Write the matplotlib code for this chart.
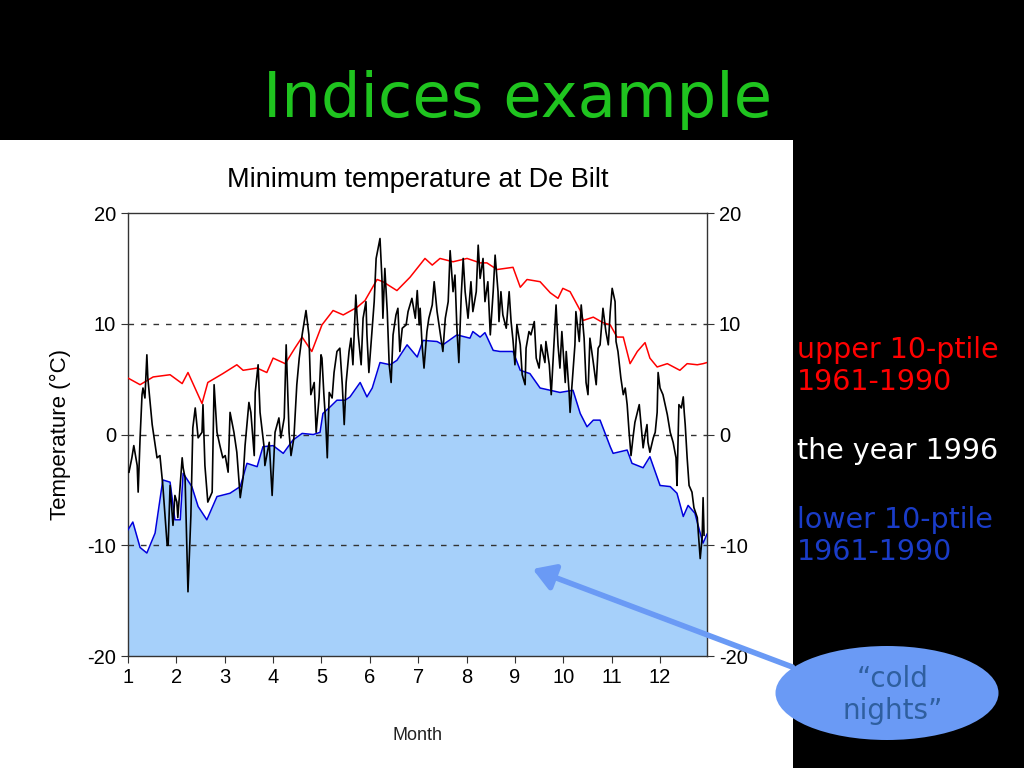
import matplotlib
matplotlib.use("Agg")
import matplotlib.pyplot as plt
from matplotlib.patches import Rectangle, Ellipse, FancyArrowPatch

# upper 10-percentile 1961-1990 (month, degC)
red_x = [1.00, 1.25, 1.52, 1.87, 2.12, 2.24, 2.53, 2.65, 2.96, 3.25, 3.38, 3.67, 3.87,
         4.00, 4.25, 4.45, 4.60, 4.80, 5.01, 5.24, 5.45, 5.74, 5.90, 6.15, 6.27, 6.56,
         6.83, 7.14, 7.29, 7.45, 7.72, 8.01, 8.28, 8.42, 8.63, 8.96, 9.11, 9.25, 9.52,
         9.73, 9.89, 9.99, 10.14, 10.35, 10.41, 10.62, 10.82, 10.97, 11.11, 11.24, 11.38,
         11.53, 11.69, 11.79, 11.94, 12.15, 12.41, 12.56, 12.77, 12.89, 12.97]
red_y = [5.1, 4.5, 5.2, 5.4, 4.6, 5.6, 2.8, 4.7, 5.5, 6.3, 5.8, 6.0, 5.6,
         6.9, 6.4, 7.8, 8.8, 7.5, 9.9, 11.2, 10.8, 11.5, 12.1, 14.0, 13.8, 13.0,
         14.2, 15.9, 15.3, 15.9, 15.6, 15.9, 15.5, 15.5, 14.9, 15.1, 13.3, 14.0, 13.8,
         12.8, 12.3, 13.2, 12.9, 11.2, 10.3, 10.6, 10.1, 9.9, 8.8, 8.8, 6.4,
         7.5, 8.3, 6.9, 6.1, 6.4, 5.8, 6.4, 6.3, 6.4, 6.5]

# lower 10-percentile 1961-1990
blue_x = [1.00, 1.10, 1.25, 1.39, 1.56, 1.72, 1.87, 1.97, 2.08, 2.14, 2.32, 2.45, 2.63,
          2.84, 3.11, 3.32, 3.46, 3.67, 3.79, 4.00, 4.21, 4.41, 4.60, 4.83, 4.97, 5.03,
          5.18, 5.32, 5.49, 5.59, 5.80, 5.94, 6.05, 6.21, 6.42, 6.56, 6.77, 6.98, 7.10,
          7.39, 7.51, 7.80, 8.07, 8.13, 8.28, 8.38, 8.55, 8.69, 8.96, 9.11, 9.31, 9.52,
          9.93, 10.20, 10.35, 10.49, 10.62, 10.76, 10.97, 11.03, 11.32, 11.42, 11.65,
          11.79, 12.00, 12.21, 12.35, 12.48, 12.58, 12.72, 12.83, 12.89, 12.97]
blue_y = [-8.6, -7.9, -10.2, -10.7, -8.9, -4.1, -4.3, -7.7, -7.7, -3.5, -4.7, -6.5, -7.7,
          -5.6, -5.3, -4.7, -2.6, -2.9, -1.1, -1.0, -1.7, -0.5, 0.1, 0.0, 0.2, 1.9,
          2.5, 3.1, 3.1, 3.4, 4.7, 3.4, 4.2, 6.5, 6.3, 6.7, 8.1, 7.0, 8.5,
          8.4, 8.1, 9.0, 8.7, 9.3, 8.8, 9.2, 7.6, 7.5, 7.5, 5.8, 5.5, 4.2,
          3.8, 4.0, 1.9, 0.7, 1.3, 1.3, -1.1, -1.7, -1.4, -2.6, -3.0,
          -2.0, -4.6, -4.7, -5.3, -7.4, -6.4, -7.1, -8.9, -9.8, -9.0]

# the year 1996
year_x = [1.02, 1.08, 1.12, 1.19, 1.21, 1.25, 1.29, 1.31, 1.35, 1.39, 1.41, 1.50, 1.60,
          1.66, 1.72, 1.81, 1.83, 1.87, 1.93, 1.97, 2.01, 2.03, 2.12, 2.14, 2.18, 2.24,
          2.30, 2.34, 2.39, 2.45, 2.53, 2.55, 2.59, 2.65, 2.74, 2.78, 2.84, 2.90, 2.96,
          3.01, 3.07, 3.11, 3.19, 3.25, 3.32, 3.38, 3.42, 3.50, 3.54, 3.61, 3.63, 3.69,
          3.73, 3.81, 3.83, 3.92, 3.98, 4.04, 4.12, 4.16, 4.23, 4.27, 4.33, 4.37, 4.43,
          4.49, 4.54, 4.60, 4.68, 4.74, 4.78, 4.85, 4.89, 4.95, 4.99, 5.01, 5.05, 5.09,
          5.12, 5.16, 5.22, 5.26, 5.32, 5.38, 5.43, 5.47, 5.51, 5.57, 5.61, 5.65, 5.71,
          5.76, 5.82, 5.86, 5.92, 5.94, 5.98, 6.05, 6.09, 6.13, 6.21, 6.25, 6.27, 6.31,
          6.36, 6.40, 6.44, 6.48, 6.54, 6.58, 6.62, 6.67, 6.75, 6.79, 6.87, 6.94, 6.98,
          7.02, 7.04, 7.08, 7.12, 7.18, 7.22, 7.29, 7.33, 7.39, 7.43, 7.51, 7.56, 7.62,
          7.66, 7.72, 7.76, 7.80, 7.84, 7.89, 7.93, 7.97, 8.03, 8.09, 8.13, 8.20, 8.24,
          8.28, 8.34, 8.38, 8.44, 8.49, 8.55, 8.59, 8.65, 8.67, 8.71, 8.75, 8.82, 8.88,
          8.92, 8.96, 9.00, 9.04, 9.11, 9.15, 9.21, 9.23, 9.29, 9.33, 9.40, 9.44, 9.50,
          9.54, 9.62, 9.64, 9.71, 9.75, 9.81, 9.85, 9.89, 9.93, 9.97, 10.04, 10.06, 10.12,
          10.14, 10.18, 10.24, 10.26, 10.33, 10.37, 10.43, 10.47, 10.51, 10.55, 10.62,
          10.68, 10.72, 10.76, 10.82, 10.88, 10.93, 10.97, 11.01, 11.07, 11.09, 11.13,
          11.19, 11.24, 11.28, 11.32, 11.36, 11.40, 11.44, 11.48, 11.53, 11.57, 11.63,
          11.65, 11.69, 11.73, 11.75, 11.79, 11.86, 11.90, 11.94, 11.96, 12.00, 12.06,
          12.15, 12.21, 12.27, 12.33, 12.35, 12.39, 12.44, 12.48, 12.50, 12.52, 12.56,
          12.60, 12.66, 12.70, 12.77, 12.79, 12.83, 12.87, 12.89, 12.91]
year_y = [-3.4, -2.1, -1.0, -2.8, -5.2, -0.3, 3.6, 4.2, 3.3, 7.2, 5.1, 0.9, -2.1,
          -1.9, -4.6, -10.0, -10.0, -4.6, -8.2, -5.5, -6.1, -7.5, -2.1, -3.0, -3.9, -14.2,
          -7.3, 0.6, 2.4, -0.3, 0.2, 2.7, -2.8, -6.1, -5.2, 4.5, 0.2, -1.0, -2.1,
          -1.9, -3.4, 2.0, 0.2, -1.6, -5.7, -3.9, -1.0, 2.9, 2.0, -1.9, 3.8, 6.3,
          2.0, -1.0, -2.8, -0.7, -5.5, 0.2, 1.5, -0.3, 1.5, 8.1, 0.2, -1.9, -0.3,
          4.5, 6.9, 9.0, 11.2, 9.0, 3.6, 4.7, 0.2, 3.3, 7.2, 6.9, 3.6, 0.9,
          -2.1, 3.8, 3.3, 5.6, 7.5, 7.8, 4.5, 0.9, 4.7, 7.5, 8.7, 6.3, 12.6,
          9.0, 6.3, 10.5, 12.0, 9.0, 5.6, 9.6, 12.0, 15.9, 17.7, 14.1, 10.5, 15.0,
          11.1, 6.3, 4.7, 9.0, 10.8, 11.4, 7.5, 9.6, 9.9, 11.1, 12.3, 10.5, 13.0,
          9.9, 11.4, 8.1, 6.0, 9.3, 10.5, 11.7, 13.8, 11.1, 9.9, 7.5, 10.5, 12.0,
          16.6, 12.9, 14.4, 9.6, 6.5, 12.6, 15.9, 12.9, 10.5, 13.8, 11.1, 12.9, 17.1,
          14.1, 15.9, 12.0, 13.8, 9.0, 12.9, 16.2, 12.9, 10.2, 12.9, 10.8, 9.6, 12.9,
          10.2, 8.5, 6.3, 9.9, 8.1, 5.4, 4.5, 7.8, 9.3, 9.0, 10.2, 6.9, 6.0,
          8.1, 6.5, 8.4, 6.3, 3.6, 8.4, 11.7, 8.1, 6.0, 9.3, 4.7, 7.5, 3.8,
          2.0, 4.5, 8.1, 11.1, 8.4, 11.7, 8.7, 4.7, 3.6, 8.7, 6.5,
          4.5, 7.8, 8.1, 11.4, 9.3, 8.1, 11.1, 13.2, 12.0, 8.4, 7.5,
          5.1, 3.6, 4.2, 2.7, 0.2, -1.9, -0.3, 1.1, 2.0, 2.7, -0.3,
          -1.2, 0.0, 0.9, -0.7, -1.6, -0.3, 0.2, 2.0, 5.6, 4.2, 3.6,
          1.8, 0.2, -0.7, -2.1, -4.6, 2.7, 2.4, 3.4, 2.0, 0.9, -2.1,
          -4.6, -5.2, -6.6, -7.5, -8.8, -11.2, -9.3, -5.7, -9.1]

months = list(range(1, 13))
temp_ticks = [-20, -10, 0, 10, 20]

plt.rcParams['font.family'] = ['Liberation Sans', 'DejaVu Sans']
plt.rcParams['axes.unicode_minus'] = False

fig = plt.figure(figsize=(10.24, 7.68), dpi=100, facecolor='black')

# white panel of the slide picture
fig.patches.append(Rectangle((0, 0), 793 / 1024, 628 / 768, transform=fig.transFigure,
                             facecolor='white', edgecolor='none', zorder=-5))

fig.text(0.505, 0.87, 'Indices example', color='#1fc41f', fontsize=45,
         family='DejaVu Sans', ha='center', va='center')

ax = fig.add_axes([0.125, 0.1458, 0.5654, 0.5768])
ax.set_facecolor('white')
ax.fill_between(blue_x, blue_y, -20, color='#a6d0fa', lw=0, zorder=1)
ax.plot(blue_x, blue_y, color='#0000dd', lw=1.1, zorder=3)
ax.plot(red_x, red_y, color='#ff0000', lw=1.1, zorder=3)
ax.plot(year_x, year_y, color='black', lw=1.2, zorder=4)
for yv in [-10, 0, 10]:
    ax.axhline(yv, color='#333333', lw=1.0, ls=(0, (4, 5)), zorder=2)

ax.set_xlim(1, 12.97)
ax.set_ylim(-20, 20)
ax.set_xticks(months)
ax.set_yticks(temp_ticks)
ax.tick_params(axis='both', labelsize=14.5, direction='out', length=5, color='#333333')
ax.tick_params(axis='y', right=True, labelright=True)
for s in ax.spines.values():
    s.set_color('#333333')
    s.set_linewidth(1.0)

ax.set_title('Minimum temperature at De Bilt', fontsize=19.5, pad=19)
ax.set_ylabel('Temperature (°C)', fontsize=16, labelpad=12)
ax.set_xlabel('Month', fontsize=13, labelpad=29, color='#222222')

# legend text on the black side
fig.text(797 / 1024, 1 - 366 / 768, 'upper 10-ptile\n1961-1990', color='#ff0000',
         fontsize=20.5, family='DejaVu Sans', va='center', linespacing=1.2)
fig.text(797 / 1024, 1 - 451 / 768, 'the year 1996', color='white',
         fontsize=20.5, family='DejaVu Sans', va='center')
fig.text(797 / 1024, 1 - 536 / 768, 'lower 10-ptile\n1961-1990', color='#1a3cc8',
         fontsize=20.5, family='DejaVu Sans', va='center', linespacing=1.2)

# "cold nights" callout
fig.patches.append(FancyArrowPatch((795 / 1024, 1 - 668 / 768), (530 / 1024, 1 - 568 / 768),
                                   transform=fig.transFigure, arrowstyle='-|>,head_length=13,head_width=8',
                                   color='#6a9af5', lw=4, zorder=10))
fig.patches.append(Ellipse((887 / 1024, 1 - 693 / 768), 223 / 1024, 94 / 768,
                           transform=fig.transFigure, facecolor='#6a9af5',
                           edgecolor='none', zorder=11))
fig.text(893 / 1024, 1 - 695 / 768, '\u201ccold\nnights\u201d', color='#2f5f9f',
         fontsize=20, family='DejaVu Sans', ha='center', va='center', zorder=12)

fig.savefig('out.png', dpi=100, facecolor='black')
